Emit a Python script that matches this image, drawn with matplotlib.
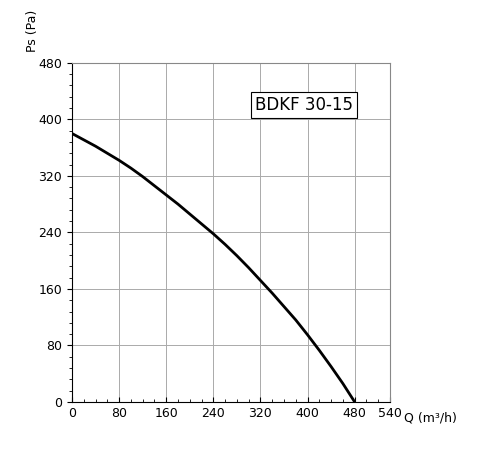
import matplotlib
matplotlib.use("Agg")
import matplotlib.pyplot as plt
import numpy as np

q = [0, 20, 40, 60, 80, 100, 120, 140, 160, 180, 200, 220, 240, 260, 280, 300,
     320, 340, 360, 380, 400, 420, 440, 460, 480]
ps = [380, 371, 362, 352, 342, 331, 319, 306, 293, 280, 266, 252, 238, 223, 207, 190,
      172, 154, 135, 116, 95, 73, 50, 26, 0]
xticks = [0, 80, 160, 240, 320, 400, 480, 540]
yticks = [0, 80, 160, 240, 320, 400, 480]

fig = plt.figure(figsize=(5, 4.69), dpi=100)
ax = fig.add_axes([0.144, 0.143, 0.636, 0.723])
ax.plot(q, ps, color="black", lw=2, solid_capstyle="round", solid_joinstyle="round")
ax.set_xlim(0, 540)
ax.set_ylim(0, 480)
ax.set_xticks(xticks)
ax.set_yticks(yticks)
ax.set_xticks(np.arange(0, 541, 20), minor=True)
ax.set_yticks(np.arange(0, 481, 16), minor=True)
ax.grid(True, which="major", color="#aaaaaa", lw=0.7)
ax.tick_params(axis="x", which="both", direction="in", labelsize=9)
ax.tick_params(axis="y", which="both", direction="out", labelsize=9)
for s in ax.spines.values():
    s.set_color("#888888")
ax.spines["left"].set_color("black")
ax.spines["bottom"].set_color("black")
ax.text(0.73, 0.875, "BDKF 30-15", transform=ax.transAxes, fontsize=12,
        ha="center", va="center",
        bbox=dict(boxstyle="square,pad=0.25", fc="white", ec="black", lw=0.8))
fig.text(0.065, 0.935, "Ps (Pa)", rotation=90, fontsize=9, ha="center", va="center")
fig.text(0.86, 0.108, "Q (m³/h)", fontsize=9, ha="center", va="center")
fig.savefig("out.png", dpi=100)
